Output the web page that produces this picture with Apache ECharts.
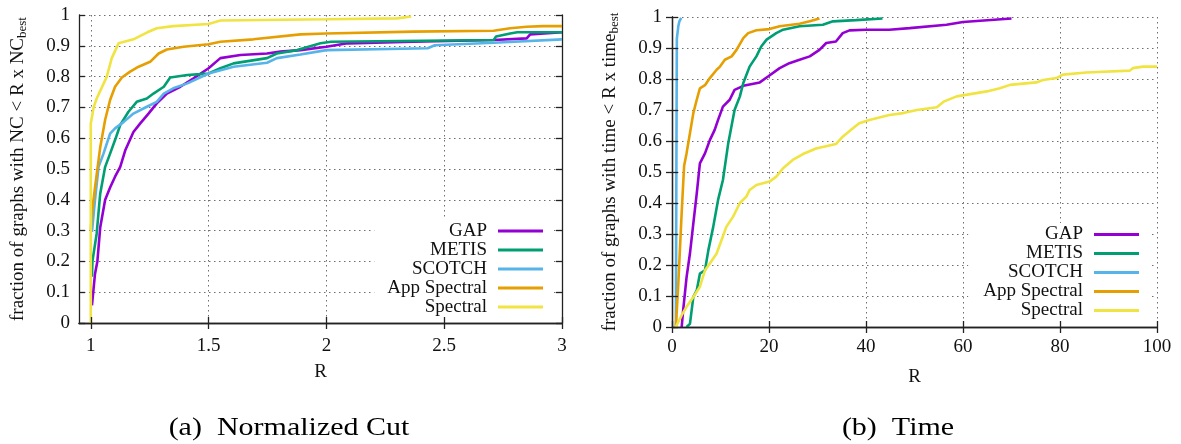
<!DOCTYPE html>
<html>
<head>
<meta charset="utf-8">
<script src="https://cdn.jsdelivr.net/npm/echarts@6/dist/echarts.min.js"></script>
<style>
html,body{margin:0;padding:0;background:#fff;}
#chart{width:1181px;height:444px;}
</style>
</head>
<body>
<div id="chart"></div>
<script>
// ---------- data ----------
const seriesNames = ['GAP', 'METIS', 'SCOTCH', 'App Spectral', 'Spectral'];
const seriesColors = ['#9400D3', '#009E73', '#56B4E9', '#E69F00', '#F0E442'];

const ncTicks = [1, 1.5, 2, 2.5, 3];
const timeTicks = [0, 20, 40, 60, 80, 100];
const fracTicks = [0, 0.1, 0.2, 0.3, 0.4, 0.5, 0.6, 0.7, 0.8, 0.9, 1];

// (a) Normalized Cut : [R, fraction]
const ncGap = [[1.005,0.057],[1.018,0.16],[1.028,0.20],[1.04,0.31],[1.061,0.40],[1.082,0.44],[1.103,0.475],[1.125,0.507],[1.146,0.56],[1.181,0.62],[1.21,0.648],[1.245,0.68],[1.28,0.713],[1.323,0.745],[1.38,0.767],[1.436,0.794],[1.5,0.827],[1.55,0.86],[1.635,0.87],[1.748,0.875],[1.805,0.881],[1.89,0.886],[2.0,0.897],[2.09,0.908],[2.37,0.913],[2.71,0.919],[2.85,0.924],[2.865,0.937],[3.0,0.944]];
const ncMetis = [[1.005,0.15],[1.007,0.20],[1.025,0.29],[1.04,0.42],[1.061,0.507],[1.082,0.55],[1.103,0.594],[1.125,0.643],[1.16,0.686],[1.195,0.718],[1.238,0.729],[1.266,0.745],[1.31,0.767],[1.337,0.797],[1.41,0.805],[1.465,0.808],[1.5,0.81],[1.55,0.827],[1.606,0.843],[1.748,0.86],[1.79,0.875],[1.876,0.886],[1.975,0.908],[2.02,0.913],[2.71,0.919],[2.72,0.93],[2.78,0.94],[2.81,0.944],[3.0,0.944]];
const ncScotch = [[1.005,0.296],[1.018,0.40],[1.033,0.507],[1.054,0.55],[1.082,0.615],[1.103,0.632],[1.14,0.653],[1.181,0.68],[1.238,0.702],[1.28,0.718],[1.31,0.745],[1.35,0.762],[1.41,0.778],[1.5,0.81],[1.606,0.832],[1.748,0.845],[1.79,0.86],[1.89,0.872],[2.0,0.886],[2.43,0.892],[2.46,0.902],[2.71,0.91],[3.0,0.921]];
const ncAppSpectral = [[1.0,0.30],[1.005,0.36],[1.018,0.44],[1.04,0.57],[1.061,0.66],[1.082,0.724],[1.103,0.767],[1.132,0.797],[1.167,0.816],[1.203,0.832],[1.252,0.848],[1.288,0.875],[1.323,0.888],[1.394,0.897],[1.5,0.905],[1.55,0.913],[1.69,0.921],[1.89,0.937],[2.0,0.94],[2.37,0.946],[2.71,0.949],[2.78,0.957],[2.85,0.962],[2.92,0.964],[3.0,0.964]];
const ncSpectral = [[1.0,0],[1.0,0.648],[1.012,0.70],[1.025,0.729],[1.047,0.765],[1.068,0.80],[1.089,0.86],[1.118,0.908],[1.181,0.921],[1.238,0.943],[1.28,0.957],[1.35,0.964],[1.5,0.971],[1.55,0.982],[2.0,0.986],[2.30,0.989],[2.36,0.995]];

// (b) Time : [R, fraction]
const timeGap = [[2.0,0],[2.3,0.054],[3.0,0.16],[3.7,0.237],[4.4,0.334],[5.1,0.43],[5.75,0.528],[6.8,0.56],[7.8,0.603],[8.8,0.636],[9.5,0.668],[10.5,0.711],[11.9,0.733],[12.9,0.765],[14.7,0.778],[18.1,0.789],[19.8,0.808],[22.2,0.835],[24.2,0.851],[26.3,0.862],[28.4,0.873],[30.4,0.894],[31.8,0.916],[33.8,0.921],[35.2,0.948],[36.6,0.957],[40,0.959],[44.8,0.959],[49.0,0.964],[56.6,0.975],[60,0.984],[70,0.995]];
const timeMetis = [[3.0,0],[3.7,0.01],[4.4,0.097],[5.1,0.118],[5.75,0.172],[6.8,0.183],[7.5,0.248],[8.5,0.323],[9.5,0.41],[10.5,0.474],[11.6,0.593],[12.9,0.70],[14.0,0.744],[14.7,0.787],[16.0,0.84],[17.4,0.873],[18.4,0.905],[19.5,0.927],[21.5,0.948],[22.9,0.959],[26.3,0.97],[31.1,0.975],[33.2,0.986],[37.9,0.99],[43.4,0.995]];
const timeScotch = [[0.8,0],[0.9,0.5],[1.0,0.93],[1.3,0.97],[1.5,0.985],[1.9,0.997]];
const timeAppSpectral = [[0.8,0],[1.3,0.14],[2.0,0.37],[2.5,0.52],[3.0,0.56],[3.7,0.625],[4.4,0.69],[5.1,0.733],[5.75,0.77],[6.8,0.78],[7.8,0.803],[9.2,0.83],[9.9,0.84],[10.9,0.862],[12.3,0.873],[13.3,0.894],[14.7,0.932],[15.7,0.948],[17.4,0.957],[20.1,0.961],[22.2,0.97],[26.3,0.978],[28.4,0.986],[30.4,0.995]];
const timeSpectral = [[0.8,0],[1.1,0.01],[2.0,0.038],[3.0,0.065],[4.4,0.097],[5.75,0.13],[6.8,0.183],[7.8,0.205],[9.2,0.237],[10.2,0.28],[11.2,0.323],[12.6,0.356],[14.0,0.40],[15.3,0.42],[16.0,0.442],[17.4,0.458],[20.1,0.469],[21.5,0.485],[22.9,0.512],[24.9,0.539],[27.0,0.558],[29.7,0.576],[33.8,0.59],[35.2,0.614],[37.3,0.641],[38.6,0.657],[40.7,0.668],[44.8,0.684],[47.7,0.69],[50.5,0.70],[54.6,0.709],[56,0.727],[58.7,0.744],[64.9,0.76],[67.6,0.77],[69.7,0.781],[75.1,0.789],[76.5,0.797],[79.3,0.803],[80.6,0.814],[85.4,0.821],[94.4,0.827],[95.0,0.835],[97.1,0.84],[100,0.84]];

const ncData = [ncGap, ncMetis, ncScotch, ncAppSpectral, ncSpectral];
const timeData = [timeGap, timeMetis, timeScotch, timeAppSpectral, timeSpectral];

// ---------- styling ----------
const FONT = '"Liberation Serif", "Times New Roman", serif';
const TXT = '#111';
const axisLineStyle = { color: '#222', width: 1.3 };
const gridLineStyle = { color: '#6f6f6f', width: 1, type: [1.5, 3.5] };

function fmt(v) { return String(Math.round(v * 1000) / 1000); }

function mainX(grid, min, max, ticks, margin, nameGap) {
  return {
    type: 'value', gridIndex: grid, position: 'bottom', min: min, max: max, z: 5,
    axisLine: { show: true, lineStyle: axisLineStyle },
    axisTick: { show: true, inside: true, length: 6, lineStyle: axisLineStyle, customValues: ticks },
    axisLabel: { show: true, margin: margin, color: TXT, fontFamily: FONT, fontSize: 19, customValues: ticks, formatter: fmt },
    splitLine: { show: false },
    name: 'R', nameLocation: 'middle', nameGap: nameGap,
    nameTextStyle: { color: TXT, fontFamily: FONT, fontSize: 19 }
  };
}
function mirrorX(grid, min, max, ticks) {
  return {
    type: 'value', gridIndex: grid, position: 'top', min: min, max: max, z: 0,
    axisLine: { show: true, lineStyle: axisLineStyle },
    axisTick: { show: true, inside: true, length: 6, lineStyle: axisLineStyle, customValues: ticks },
    axisLabel: { show: false },
    splitLine: { show: true, lineStyle: gridLineStyle }
  };
}
function mainY(grid, name, margin, nameGap) {
  return {
    type: 'value', gridIndex: grid, position: 'left', min: 0, max: 1, z: 5,
    axisLine: { show: true, lineStyle: axisLineStyle },
    axisTick: { show: true, inside: true, length: 6, lineStyle: axisLineStyle, customValues: fracTicks },
    axisLabel: { show: true, margin: margin, color: TXT, fontFamily: FONT, fontSize: 19, customValues: fracTicks, formatter: fmt },
    splitLine: { show: false },
    name: name, nameLocation: 'middle', nameGap: nameGap, nameRotate: 90,
    nameTextStyle: {
      color: TXT, fontFamily: FONT, fontSize: 19,
      rich: {
        m: { color: TXT, fontFamily: FONT, fontSize: 19 },
        s: { color: TXT, fontFamily: FONT, fontSize: 13, padding: [9, 0, 0, 0] }
      }
    }
  };
}
function mirrorY(grid) {
  return {
    type: 'value', gridIndex: grid, position: 'right', min: 0, max: 1, z: 0,
    axisLine: { show: true, lineStyle: axisLineStyle },
    axisTick: { show: true, inside: true, length: 6, lineStyle: axisLineStyle, customValues: fracTicks },
    axisLabel: { show: false },
    splitLine: { show: true, lineStyle: gridLineStyle }
  };
}

const series = [];
seriesNames.forEach(function (n, i) {
  series.push({
    name: n, type: 'line', xAxisIndex: 0, yAxisIndex: 0, data: ncData[i],
    showSymbol: false, symbol: 'none', animation: false, z: 3,
    lineStyle: { color: seriesColors[i], width: 2.6 }, itemStyle: { color: seriesColors[i] }
  });
});
seriesNames.forEach(function (n, i) {
  series.push({
    name: n, type: 'line', xAxisIndex: 2, yAxisIndex: 2, data: timeData[i],
    showSymbol: false, symbol: 'none', animation: false, z: 3,
    lineStyle: { color: seriesColors[i], width: 2.6 }, itemStyle: { color: seriesColors[i] }
  });
});

function legendAt(right, top, padding) {
  return {
    data: seriesNames, orient: 'vertical', align: 'right', right: right, top: top,
    icon: 'rect', itemWidth: 45, itemHeight: 3, itemGap: 0,
    backgroundColor: '#ffffff', padding: padding, selectedMode: false,
    textStyle: { color: TXT, fontFamily: FONT, fontSize: 19, lineHeight: 19, padding: [0, 6, 0, 0] }
  };
}

const option = {
  backgroundColor: '#ffffff',
  animation: false,
  grid: [
    { left: 79, top: 15, width: 483, height: 308 },
    { left: 672, top: 17, width: 485, height: 310 }
  ],
  xAxis: [
    mainX(0, 0.95, 3, ncTicks, 14, 40),
    mirrorX(0, 0.95, 3, ncTicks),
    mainX(1, 0, 100, timeTicks, 11, 41),
    mirrorX(1, 0, 100, timeTicks)
  ],
  yAxis: [
    mainY(0, '{m|fraction of graphs with NC < R x NC}{s|best}', 9, 50),
    mirrorY(0),
    mainY(1, '{m|fraction of graphs with time < R x time}{s|best}', 10, 51),
    mirrorY(1)
  ],
  legend: [
    legendAt(628, 219.5, [2, 10, 2, 13]),
    legendAt(32, 223, [2, 10, 2, 15])
  ],
  series: series,
  graphic: [
    { type: 'text', x: 289, y: 428, scaleX: 1.2, style: { text: '(a)  Normalized Cut', font: '25px "Liberation Serif", serif', fill: '#000', textAlign: 'center', textVerticalAlign: 'middle' } },
    { type: 'text', x: 898, y: 428, scaleX: 1.2, style: { text: '(b)  Time', font: '25px "Liberation Serif", serif', fill: '#000', textAlign: 'center', textVerticalAlign: 'middle' } }
  ]
};

const chart = echarts.init(document.getElementById('chart'), null, { renderer: 'canvas' });
chart.setOption(option);
</script>
</body>
</html>
